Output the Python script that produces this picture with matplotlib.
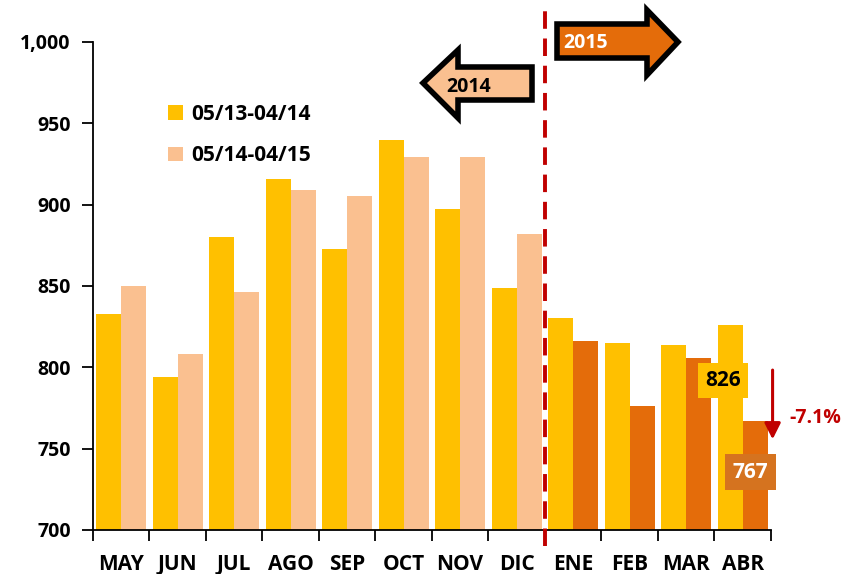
import matplotlib
matplotlib.use("Agg")
import matplotlib.pyplot as plt
import numpy as np
from matplotlib.patches import Polygon, Patch

months = ["MAY", "JUN", "JUL", "AGO", "SEP", "OCT", "NOV", "DIC",
          "ENE", "FEB", "MAR", "ABR"]
prev_year = [833, 794, 880, 916, 873, 940, 897, 849, 830, 815, 814, 826]
curr_year = [850, 808, 846, 909, 905, 929, 929, 882, 816, 776, 806, 767]
legend_labels = ["05/13-04/14", "05/14-04/15"]
yticks = [700, 750, 800, 850, 900, 950, 1000]

YELLOW = "#FFC000"
PEACH = "#FAC090"
ORANGE = "#E46C0A"
RED = "#C00000"

plt.rcParams["font.family"] = ["Open Sans", "DejaVu Sans"]
plt.rcParams["font.weight"] = "bold"

fig = plt.figure(figsize=(8.49, 5.74), dpi=100)
ax = fig.add_axes([0.1095, 0.0767, 0.7985, 0.8503])

x = np.arange(len(months))
w = 0.44
curr_colors = [PEACH] * 8 + [ORANGE] * 4
ax.bar(x - w / 2, prev_year, width=w, color=YELLOW, linewidth=0, zorder=2)
ax.bar(x + w / 2, curr_year, width=w, color=curr_colors, linewidth=0, zorder=2)

ax.set_xlim(-0.5, len(months) - 0.5)
ax.set_ylim(700, 1000)
ax.set_yticks(yticks, [f"{v:,}" for v in yticks], fontsize=14, fontweight="bold")
ax.set_xticks(np.arange(len(months) + 1) - 0.5, [""] * (len(months) + 1))
ax.set_xticks(x, months, minor=True, fontsize=15, fontweight="bold")
ax.tick_params(axis="x", which="major", direction="out", length=8, width=1.3)
ax.tick_params(axis="x", which="minor", length=0, pad=17)
ax.tick_params(axis="y", direction="out", length=8, width=1.3, pad=8)
for s in ("top", "right"):
    ax.spines[s].set_visible(False)
for s in ("left", "bottom"):
    ax.spines[s].set_linewidth(1.3)

# dashed divider between 2014 and 2015
ax.plot([7.5, 7.5], [690, 1020], color=RED, lw=2.8, linestyle=(0, (4.5, 2.5)),
        clip_on=False, zorder=5)

# year arrows (figure pixel coordinates)
def fig_poly(pts, **kw):
    pts = [(px / 849, 1 - py / 574) for px, py in pts]
    fig.add_artist(Polygon(pts, closed=True, transform=fig.transFigure, **kw))

fig_poly([(423, 83), (458, 50), (458, 67), (532, 67), (532, 100), (458, 100), (458, 118)],
         facecolor=PEACH, edgecolor="black", linewidth=4, joinstyle="miter")
fig_poly([(557, 24), (647, 24), (647, 10), (678, 42), (647, 75), (647, 58), (557, 58)],
         facecolor=ORANGE, edgecolor="black", linewidth=4, joinstyle="miter")
fig.text(469 / 849, 1 - 87 / 574, "2014", ha="center", va="center", fontsize=14,
         fontweight="bold", color="black")
fig.text(586 / 849, 1 - 43 / 574, "2015", ha="center", va="center", fontsize=14,
         fontweight="bold", color="white")

# legend
handles = [Patch(facecolor=YELLOW, label=legend_labels[0]),
           Patch(facecolor=PEACH, label=legend_labels[1])]
ax.legend(handles=handles, loc="upper left", bbox_to_anchor=(0.083, 0.912),
          frameon=False, handlelength=0.7, handleheight=0.7,
          handletextpad=0.4, labelspacing=1.0, prop={"weight": "bold", "size": 15})

# value labels for last month
ax.text(10.65, 792, f"{prev_year[-1]}", ha="center", va="center",
        fontsize=15, fontweight="bold", color="black",
        bbox=dict(boxstyle="square,pad=0.35", facecolor=YELLOW, edgecolor="none"), zorder=6)
ax.text(11.14, 735.5, f"{curr_year[-1]}", ha="center", va="center",
        fontsize=15, fontweight="bold", color="white",
        bbox=dict(boxstyle="square,pad=0.35", facecolor="#D5731F", edgecolor="none"), zorder=6)

# change arrow
pct = (curr_year[-1] - prev_year[-1]) / prev_year[-1] * 100
ax.annotate("", xy=(11.53, 754), xytext=(11.53, 800),
            arrowprops=dict(arrowstyle="-|>", color=RED, lw=2.2, mutation_scale=24),
            annotation_clip=False)
ax.text(11.83, 769, f"{pct:.1f}%", ha="left", va="center", fontsize=14,
        fontweight="bold", color=RED, clip_on=False)

fig.savefig("out.png", dpi=100)
